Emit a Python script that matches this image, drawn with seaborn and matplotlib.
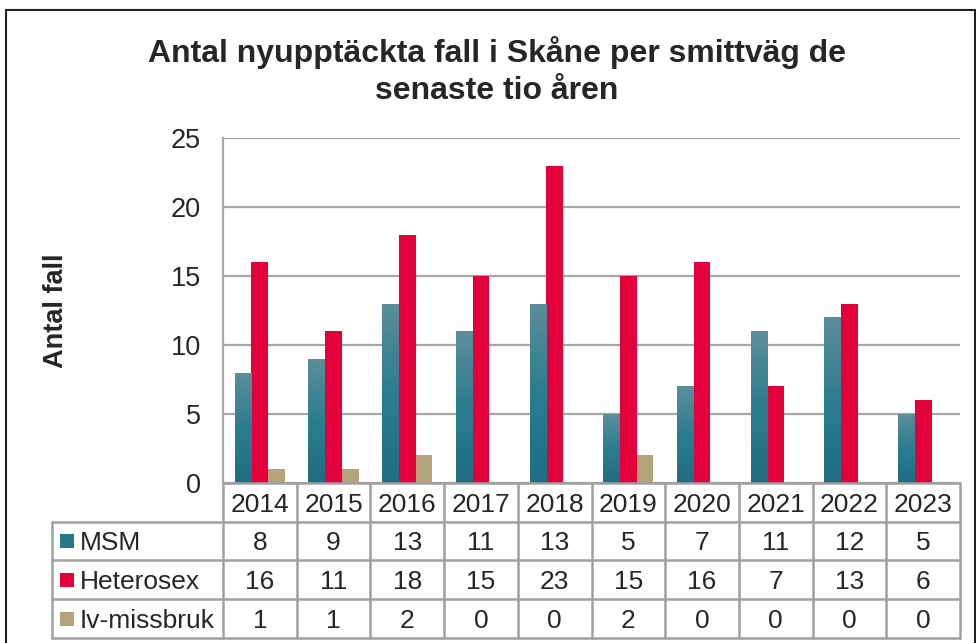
import numpy as np
import pandas as pd
import matplotlib
matplotlib.use("Agg")
import matplotlib.pyplot as plt
import matplotlib.transforms as mtransforms
from matplotlib.patches import Rectangle
from matplotlib.colors import LinearSegmentedColormap
import seaborn as sns

# ---- data ----
years = ["2014", "2015", "2016", "2017", "2018", "2019", "2020", "2021", "2022", "2023"]
series_names = ["MSM", "Heterosex", "Iv-missbruk"]
msm = [8, 9, 13, 11, 13, 5, 7, 11, 12, 5]
heterosex = [16, 11, 18, 15, 23, 15, 16, 7, 13, 6]
iv_missbruk = [1, 1, 2, 0, 0, 2, 0, 0, 0, 0]
y_ticks = [0, 5, 10, 15, 20, 25]
title = "Antal nyupptäckta fall i Skåne per smittväg de\nsenaste tio åren"
y_label = "Antal fall"

colors = {"MSM": "#27778a", "Heterosex": "#e4003a", "Iv-missbruk": "#b4a27a"}
msm_top = "#5c8e9b"
msm_bottom = "#1f6e82"

sns.set_theme(style="white")
plt.rcParams["font.family"] = ["Liberation Sans", "DejaVu Sans"]

df = pd.DataFrame({
    "year": years * 3,
    "series": [s for s in series_names for _ in years],
    "value": msm + heterosex + iv_missbruk,
})

W, H = 976, 643
fig = plt.figure(figsize=(W / 100, H / 100), dpi=100)
L, R, T, B = 223, 960, 138, 483
ax = fig.add_axes([L / W, 1 - B / H, (R - L) / W, (B - T) / H])

sns.barplot(data=df, x="year", y="value", hue="series", palette=colors,
            hue_order=series_names, order=years, width=0.68, saturation=1,
            legend=False, ax=ax, linewidth=0, errorbar=None)

# gradient on MSM bars
cmap = LinearSegmentedColormap.from_list("msm", [msm_bottom, "#2a7d8f", msm_top])
grad = np.linspace(0, 1, 256).reshape(-1, 1)
for p in ax.containers[0]:
    x0, y0 = p.get_x(), p.get_y()
    w, h = p.get_width(), p.get_height()
    if h <= 0:
        continue
    im = ax.imshow(grad, cmap=cmap, origin="lower", aspect="auto",
                   extent=[x0, x0 + w, y0, y0 + h], zorder=p.get_zorder() + 0.1)
    im.set_clip_path(p)

ax.set_xlim(-0.5, len(years) - 0.5)
ax.set_ylim(0, 25)
ax.set_yticks(y_ticks)
ax.set_yticklabels([str(t) for t in y_ticks], fontsize=19.5)
ax.tick_params(axis="y", length=0, pad=16)
ax.set_xticks([])
ax.set_xlabel("")
ax.set_ylabel("")
ax.grid(axis="y", color="#a6a6a6", linewidth=1.6)
ax.set_axisbelow(True)
for s in ["top", "right", "bottom"]:
    ax.spines[s].set_visible(False)
ax.spines["left"].set_color("#a6a6a6")
ax.spines["left"].set_linewidth(1.6)

# ---- data table under the axis ----
trans = mtransforms.blended_transform_factory(ax.transData, ax.transAxes)
ah = B - T
row_px = [483, 522, 560, 599, 638]
row_y = [-(r - B) / ah for r in row_px]
line_kw = dict(color="#a0a0a0", linewidth=1.8, clip_on=False, transform=trans)
cw = (R - L) / len(years)
xl = -0.5 - (L - 52) / cw
xr = len(years) - 0.5

# horizontal lines
ax.plot([-0.5, xr], [row_y[0], row_y[0]], **line_kw)
for ry in row_y[1:]:
    ax.plot([xl, xr], [ry, ry], **line_kw)
# vertical lines
for i in range(len(years) + 1):
    ax.plot([i - 0.5, i - 0.5], [row_y[0], row_y[-1]], **line_kw)
ax.plot([xl, xl], [row_y[1], row_y[-1]], **line_kw)

fs_tab = 19
for i, yr in enumerate(years):
    ax.text(i, (row_y[0] + row_y[1]) / 2, yr, ha="center", va="center_baseline",
            fontsize=fs_tab, transform=trans, clip_on=False)
data_rows = [msm, heterosex, iv_missbruk]
key_w = 14 / cw
for r, (name, vals) in enumerate(zip(series_names, data_rows)):
    yc = (row_y[r + 1] + row_y[r + 2]) / 2
    for i, v in enumerate(vals):
        ax.text(i, yc, str(v), ha="center", va="center_baseline",
                fontsize=fs_tab, transform=trans, clip_on=False)
    kx = xl + (60 - 52) / cw
    kh = 14 / ah
    ax.add_patch(Rectangle((kx, yc - kh / 2), key_w, kh, transform=trans,
                           facecolor=colors[name], edgecolor="none", clip_on=False))
    ax.text(xl + (80 - 52) / cw, yc, name, ha="left",
            va="center_baseline", fontsize=fs_tab, transform=trans, clip_on=False)

# titles
fig.text(497 / W, 1 - 71 / H, title, ha="center", va="center", fontsize=23,
         fontweight="bold", linespacing=1.27)
fig.text(56 / W, 1 - 311 / H, y_label, ha="center", va="center", rotation=90,
         fontsize=19.5, fontweight="bold")

# outer frame
fig.patches.append(Rectangle((6 / W, -0.05), (975 - 6) / W, 1 - 10 / H + 0.05,
                             transform=fig.transFigure, fill=False,
                             edgecolor="#222222", linewidth=1.5))

fig.savefig("out.png", dpi=100)
